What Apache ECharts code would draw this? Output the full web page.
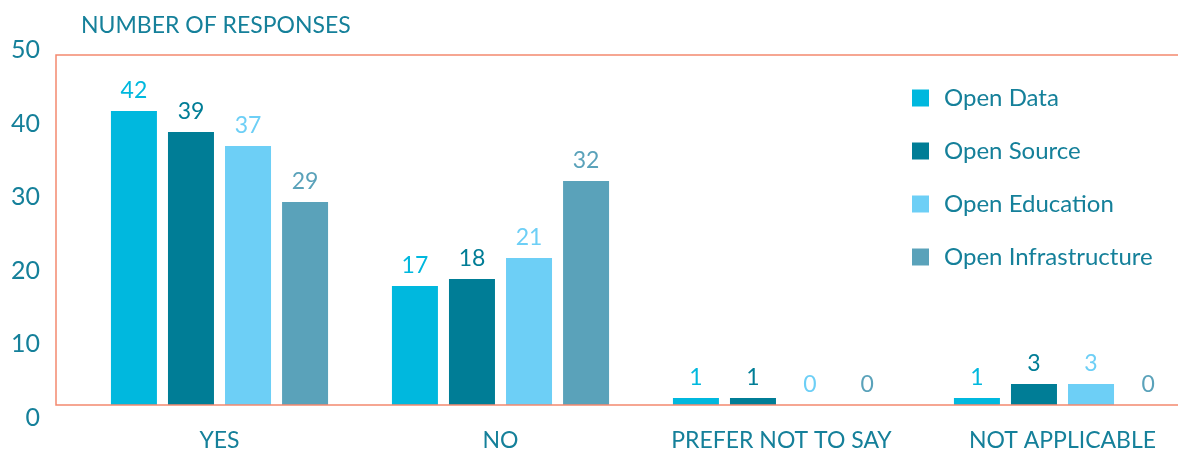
<!DOCTYPE html>
<html>
<head>
<meta charset="utf-8">
<script src="https://cdn.jsdelivr.net/npm/echarts@6/dist/echarts.min.js"></script>
<style>
  html, body { margin: 0; padding: 0; background: #ffffff; }
  #chart { width: 1178px; height: 452px; }
</style>
</head>
<body>
<div id="chart"></div>
<script>
// Survey responses per answer, split by the four "open" areas
const categories = ['YES', 'NO', 'PREFER NOT TO SAY', 'NOT APPLICABLE'];
const seriesNames = ['Open Data', 'Open Source', 'Open Education', 'Open Infrastructure'];
const openData = [42, 17, 1, 1];
const openSource = [39, 18, 1, 3];
const openEducation = [37, 21, 0, 3];
const openInfrastructure = [29, 32, 0, 0];
const yTicks = [0, 10, 20, 30, 40, 50];

const seriesValues = [openData, openSource, openEducation, openInfrastructure];
const colors = ['#00b8de', '#007d96', '#6dcff6', '#5aa2ba'];
const textColor = '#15809a';
const frameColor = '#f3896f';
const fontFamily = 'Lato, "Open Sans", sans-serif';

const chart = echarts.init(document.getElementById('chart'), null, { renderer: 'canvas' });

const option = {
  animation: false,
  textStyle: { fontFamily: fontFamily },
  title: {
    text: 'NUMBER OF RESPONSES',
    left: 76,
    top: 9,
    textStyle: { color: textColor, fontSize: 23, fontWeight: 'normal', fontFamily: fontFamily }
  },
  legend: {
    orient: 'vertical',
    left: 907,
    top: 81,
    itemWidth: 17,
    itemHeight: 17,
    itemGap: 29,
    icon: 'rect',
    data: seriesNames,
    textStyle: { color: textColor, fontSize: 24, lineHeight: 24, padding: [0, 0, 0, 10], fontFamily: fontFamily }
  },
  grid: [
    // plotting area for the bars; the last category band runs past the right edge
    { left: 79, width: 1124, top: 55, bottom: 47, containLabel: false, outerBoundsMode: 'none' },
    // separate scale carrying the value labels on the left
    { left: 42, width: 1, top: 50, bottom: 34, containLabel: false, outerBoundsMode: 'none' }
  ],
  xAxis: [
    {
      type: 'category',
      gridIndex: 0,
      data: categories,
      axisLine: { show: false },
      axisTick: { show: false },
      axisLabel: { color: textColor, fontSize: 23, margin: 24, interval: 0, fontFamily: fontFamily }
    },
    { type: 'value', gridIndex: 1, show: false }
  ],
  yAxis: [
    {
      type: 'value',
      gridIndex: 0,
      min: yTicks[0],
      max: yTicks[yTicks.length - 1],
      interval: 10,
      show: false
    },
    {
      type: 'value',
      gridIndex: 1,
      min: yTicks[0],
      max: yTicks[yTicks.length - 1],
      interval: 10,
      axisLine: { show: false },
      axisTick: { show: false },
      splitLine: { show: false },
      axisLabel: { color: textColor, fontSize: 25, margin: 2, fontFamily: fontFamily }
    }
  ],
  series: seriesNames.map((name, i) => ({
    name: name,
    type: 'bar',
    xAxisIndex: 0,
    yAxisIndex: 0,
    data: seriesValues[i],
    barWidth: 46,
    barGap: '24%',
    itemStyle: { color: colors[i] },
    label: {
      show: true,
      position: 'top',
      distance: 9,
      color: colors[i],
      fontSize: 23,
      fontFamily: fontFamily
    }
  })),
  graphic: [
    {
      type: 'rect',
      z: 100,
      silent: true,
      shape: { x: 56, y: 55, width: 1200, height: 350 },
      style: { fill: 'none', stroke: frameColor, lineWidth: 1.5 }
    }
  ]
};

chart.setOption(option);
</script>
</body>
</html>
